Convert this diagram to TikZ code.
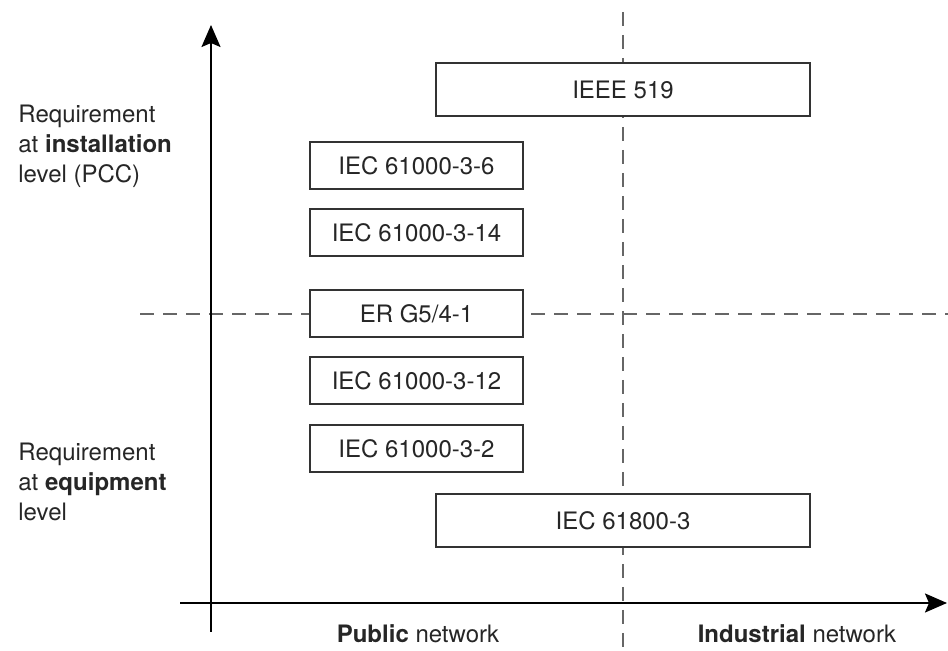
\documentclass[tikz,border=0pt]{standalone}
\usepackage{fontspec}
\setmainfont{TeX Gyre Heros}
\usetikzlibrary{arrows.meta}

\tikzset{
  stdbox/.style={draw=black!80, line width=1pt, fill=white, inner sep=0pt,
    text=black!85, font=\fontsize{12}{14}\selectfont},
  smallstd/.style={stdbox, minimum width=106.5pt, minimum height=23.5pt},
  widestd/.style={stdbox, minimum width=187pt, minimum height=26.5pt},
  axisline/.style={line width=1pt, -{Stealth[length=11pt,width=9.5pt,inset=2pt]}},
  divider/.style={draw=black!60, line width=1pt, dash pattern=on 7pt off 4.5pt},
  sidelabel/.style={align=left, anchor=north west, inner sep=0pt,
    text=black!85, font=\fontsize{12}{15}\selectfont},
  netlabel/.style={anchor=base, inner sep=0pt, text=black!85,
    font=\fontsize{12}{15}\selectfont},
}

\begin{document}
\begin{tikzpicture}[x=0.5pt,y=-0.5pt]
  \useasboundingbox (0,0) rectangle (948,651);

  % Draw the dashed dividers
  \coordinate (vtop) at (623,12);
  \coordinate (vbot) at (623,651);
  \coordinate (hleft) at (140,314);
  \coordinate (hright) at (948,314);
  \draw[divider] (vtop) -- (vbot);
  \draw[divider] (hleft) -- (hright);

  % Draw the axes
  \coordinate (yfoot) at (211,632);
  \coordinate (ytip) at (211,25);
  \coordinate (xfoot) at (180,603);
  \coordinate (xtip) at (947,603);
  \draw[axisline] (yfoot) -- (ytip);
  \draw[axisline] (xfoot) -- (xtip);

  % Draw the standards
  \node[widestd] (ieee) at (623,90) {IEEE 519};
  \node[smallstd] (iecsix) at (416.5,166) {IEC 61000-3-6};
  \node[smallstd] (iecfourteen) at (416.5,233) {IEC 61000-3-14};
  \node[smallstd] (erg) at (416.5,314) {ER G5/4-1};
  \node[smallstd] (iectwelve) at (416.5,381) {IEC 61000-3-12};
  \node[smallstd] (iectwo) at (416.5,449) {IEC 61000-3-2};
  \node[widestd] (drives) at (623,521) {IEC 61800-3};

  % Draw the axis labels
  \node[sidelabel] (install) at (18,105)
    {Requirement\\at \textbf{installation}\\level (PCC)};
  \node[sidelabel] (equip) at (18,443)
    {Requirement\\at \textbf{equipment}\\level};
  \node[netlabel] (public) at (418,643) {\textbf{Public} network};
  \node[netlabel] (industrial) at (797,643) {\textbf{Industrial} network};
\end{tikzpicture}
\end{document}
